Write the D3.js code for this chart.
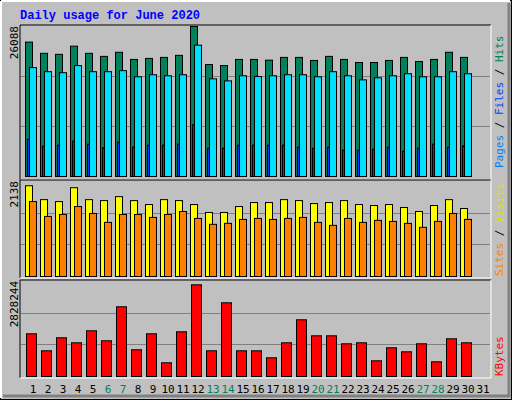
<!DOCTYPE html><html><head><meta charset="utf-8">
<script src="https://cdn.jsdelivr.net/npm/d3@7"></script>
<style>body{margin:0;background:#fff}</style></head><body><svg id="c" width="512" height="400"></svg>
<script>
const days = d3.range(1,32);
const weekend = [6,7,13,14,20,21,27,28];
const hits = [23377,21424,21247,22667,21424,20892,21602,20359,20537,20714,21069,26088,19472,19294,20359,20359,20235,20714,20714,20182,20892,20359,19827,19827,20182,20714,20004,20359,21602,20714];
const files = [18939,18229,18052,19294,18229,18229,18407,17342,17697,17519,17697,22844,16987,16632,17519,17395,17519,17697,17697,17342,18229,17519,16809,17164,17519,17874,17342,17342,18229,17874];
const pages = [6514,5272,5449,6159,5627,4970,5982,5094,5449,5449,5627,8999,4917,4917,5449,5449,5449,5449,5094,4917,5094,4562,4562,4739,5094,4384,4917,5627,5094,5325];
const sites = [2042,1730,1686,1998,1730,1708,1797,1708,1619,1730,1708,1619,1441,1441,1574,1664,1664,1730,1708,1641,1664,1708,1619,1597,1619,1552,1463,1597,1730,1530];
const visits = [1686,1352,1396,1574,1419,1218,1396,1396,1330,1396,1463,1307,1174,1196,1285,1307,1285,1307,1330,1218,1151,1307,1218,1263,1240,1196,1107,1240,1419,1285];
const kbytes = [1271222,765115,1152138,1003283,1360535,1062825,2075039,794887,1271222,407863,1330764,2730000,765115,2194123,765115,765115,556718,1003283,1688016,1211680,1211680,973512,1003283,467405,854430,735344,973512,437634,1122367,1003283];
const maxLabels = ["26088","2138","2828244"];

const svg = d3.select("#c");
// frame
svg.append("rect").attr("x",0.5).attr("y",0.5).attr("width",511).attr("height",399).attr("fill","#C0C0C0").attr("stroke","#000");
svg.append("path").attr("d","M1,1H510M1,1V398").attr("stroke","#fff").attr("stroke-width",2).attr("fill","none");
svg.append("path").attr("d","M3,396H509V3").attr("stroke","#808080").attr("stroke-width",3).attr("fill","none");
svg.append("text").attr("x",20).attr("y",19).attr("fill","#0000FF").attr("font-family","Liberation Mono, DejaVu Sans Mono, monospace")
  .attr("font-weight","bold").attr("font-size",12).text("Daily usage for June 2020");

const x = d3.scaleBand().domain(days).range([25,490]).paddingInner(0).paddingOuter(0);
const L=20,R=491;
const panels=[{top:25,bot:180,base:176,max:26088},{top:180,bot:278,base:276,max:2138},{top:280,bot:378,base:376,max:2828244}];
panels.forEach((p,i)=>{
  svg.append("rect").attr("x",L).attr("y",p.top).attr("width",R-L).attr("height",p.bot-p.top).attr("fill","#C0C0C0");
  svg.append("path").attr("d",`M${L},${p.bot}V${p.top}H${R}`).attr("stroke","#000").attr("fill","none");
  svg.append("path").attr("d",`M${L},${p.bot}H${R}V${p.top}`).attr("stroke","#fff").attr("fill","none");
  p.y=d3.scaleLinear().domain([0,p.max]).range([p.base,p.top+ (i==0?1:1)]);
  [1/3,2/3].forEach(f=>{const yy=Math.round(p.y(p.max*f))+0.5;
    svg.append("line").attr("x1",L+1).attr("x2",R-1).attr("y1",yy).attr("y2",yy).attr("stroke","#808080");});
  svg.append("text").attr("transform",`translate(18,${p.top+1}) rotate(-90)`).attr("text-anchor","end")
    .attr("font-family","DejaVu Sans Mono, monospace").attr("font-size",11).attr("fill","#000").text(maxLabels[i]);
});
function bars(data,p,off,w,color){
  svg.append("g").selectAll("rect").data(data).join("rect")
   .attr("x",(d,i)=>x(days[i])+off+0.5).attr("width",w).attr("y",d=>p.y(d)+0.5)
   .attr("height",d=>p.base-p.y(d)).attr("fill",color).attr("stroke","#000");
}
const P=panels;
bars(hits,P[0],0,7,"#00805C");
bars(files,P[0],4,7,"#00E0FF");
bars(pages,P[0],2,2,"#0040FF");
bars(sites,P[1],0,7,"#FFFF00");
bars(visits,P[1],4,7,"#FF8000");
bars(kbytes,P[2],1,10,"#FF0000");
svg.append("g").selectAll("text").data(days).join("text")
  .attr("x",d=>x(d)+8).attr("y",393).attr("text-anchor","middle")
  .attr("font-family","DejaVu Sans Mono, monospace").attr("font-size",11)
  .attr("fill",d=>weekend.includes(d)?"#00805C":"#000").text(d=>d);
function vlabel(parts,yEnd){
  const t=svg.append("text").attr("transform",`translate(503,${yEnd}) rotate(-90)`)
   .attr("font-family","DejaVu Sans Mono, monospace").attr("font-size",11).attr("text-anchor","start");
  parts.forEach(([s,c])=>t.append("tspan").attr("fill",c).text(s));
}
vlabel([["Pages","#0080FF"],[" / ","#000"],["Files","#0040FF"],[" / ","#000"],["Hits","#00805C"]],168);
vlabel([["Sites","#FF8000"],[" / ","#000"],["Visits","#E0E000"]],276);
vlabel([["KBytes","#FF0000"]],376);
</script></body></html>
